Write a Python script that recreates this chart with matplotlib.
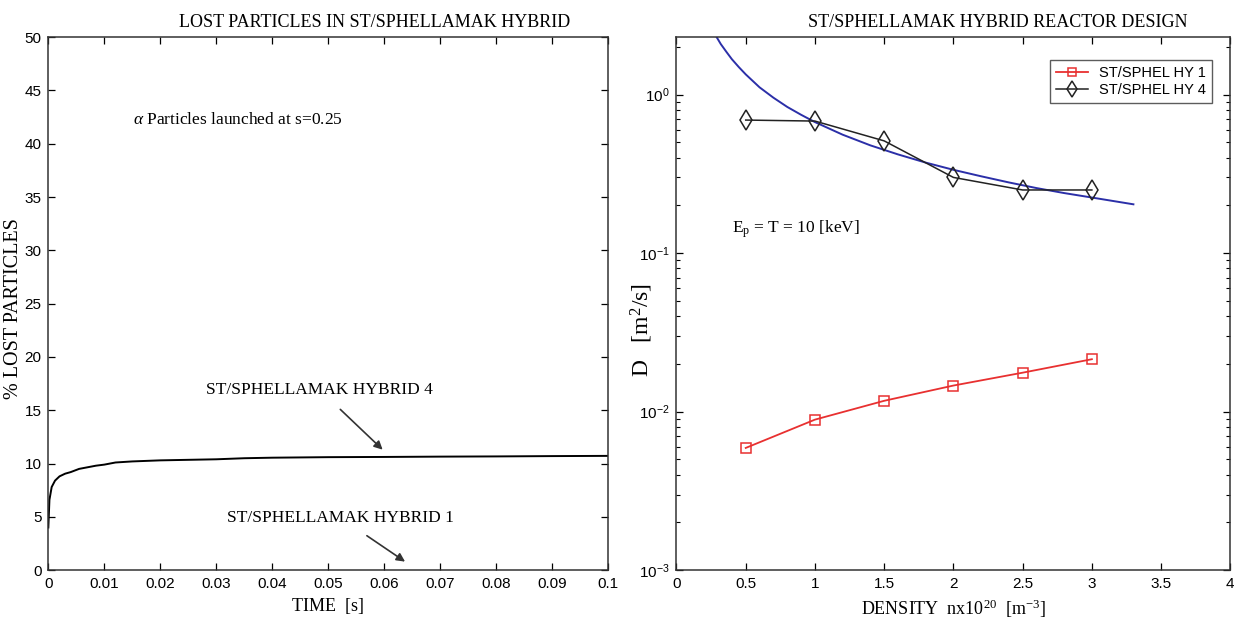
import numpy as np
import matplotlib
matplotlib.use('Agg')
import matplotlib.pyplot as plt

# left panel: lost particles vs time
time_s = [0.0, 0.0002, 0.0006, 0.0012, 0.002, 0.003, 0.004, 0.0055, 0.007, 0.0085, 0.01,
          0.012, 0.015, 0.02, 0.025, 0.03, 0.035, 0.04, 0.05, 0.06, 0.07, 0.08, 0.09, 0.1]
lost_pct = [4.0, 6.6, 7.8, 8.4, 8.8, 9.05, 9.2, 9.5, 9.65, 9.8, 9.9,
            10.1, 10.2, 10.3, 10.35, 10.4, 10.5, 10.55, 10.6, 10.62, 10.65, 10.67, 10.7, 10.72]

# right panel: diffusion coefficient vs density
density = [0.5, 1.0, 1.5, 2.0, 2.5, 3.0]
d_hy1 = [0.0059, 0.0089, 0.0117, 0.0146, 0.0176, 0.0214]
d_hy4 = [0.69, 0.68, 0.51, 0.30, 0.25, 0.25]
fit_n = [0.28, 0.32, 0.36, 0.4, 0.45, 0.5, 0.6, 0.7, 0.8, 0.9, 1.0, 1.2, 1.4, 1.6,
         1.8, 2.0, 2.2, 2.4, 2.6, 2.8, 3.0, 3.3]
fit_d = [2.38, 2.08, 1.86, 1.67, 1.49, 1.34, 1.11, 0.955, 0.835, 0.745, 0.67, 0.558, 0.478, 0.419,
         0.372, 0.335, 0.305, 0.279, 0.257, 0.239, 0.224, 0.203]

serif = ['Liberation Serif', 'DejaVu Serif']
sans = ['Liberation Sans Narrow', 'Liberation Sans', 'DejaVu Sans']

plt.rcParams['font.family'] = sans
plt.rcParams['mathtext.fontset'] = 'custom'
plt.rcParams['mathtext.rm'] = 'Liberation Serif'
plt.rcParams['mathtext.it'] = 'Liberation Serif:italic'

fig = plt.figure(figsize=(12.39, 6.3), dpi=100)
ax1 = fig.add_axes([0.039, 0.095, 0.452, 0.846])
ax2 = fig.add_axes([0.546, 0.095, 0.447, 0.846])

# ---- left ----
ax1.plot(time_s, lost_pct, color='black', lw=1.4)
ax1.set_xlim(0, 0.1)
ax1.set_ylim(0, 50)
ax1.set_xticks(np.arange(0, 0.101, 0.01))
ax1.set_xticklabels(['0', '0.01', '0.02', '0.03', '0.04', '0.05', '0.06', '0.07', '0.08', '0.09', '0.1'])
ax1.set_yticks(range(0, 51, 5))
ax1.set_title('LOST PARTICLES IN ST/SPHELLAMAK HYBRID', family=serif, fontsize=13, pad=7, x=0.583)
ax1.set_xlabel('TIME  [s]', family=serif, fontsize=13, labelpad=5)
ax1.set_ylabel('% LOST PARTICLES', family=serif, fontsize=14.5)
ax1.yaxis.set_label_coords(-0.046, 0.49)
ax1.text(0.0152, 42.2, r'$\alpha$ Particles launched at s=0.25', family=serif, fontsize=12.5, va='center')
ax1.annotate('ST/SPHELLAMAK HYBRID 4', xy=(0.0597, 11.3), xytext=(0.0485, 16.9),
             family=serif, fontsize=12.5, ha='center', va='center',
             arrowprops=dict(arrowstyle='-|>', color='#333333', lw=1.2, shrinkA=9, shrinkB=0))
ax1.annotate('ST/SPHELLAMAK HYBRID 1', xy=(0.0637, 0.8), xytext=(0.0522, 4.9),
             family=serif, fontsize=12.5, ha='center', va='center',
             arrowprops=dict(arrowstyle='-|>', color='#333333', lw=1.2, shrinkA=9, shrinkB=0))

# ---- right ----
ax2.set_yscale('log')
ax2.plot(fit_n, fit_d, color='#2b2fa8', lw=1.4)
ax2.plot(density, d_hy1, color='#e83030', lw=1.3, marker='s', ms=7.5, mfc='none',
         mec='#e83030', mew=1.1, label='ST/SPHEL HY 1')
ax2.plot(density, d_hy4, color='#222222', lw=1.1, marker='d', ms=10, mfc='none',
         mec='#222222', mew=1.1, label='ST/SPHEL HY 4')
ax2.set_xlim(0, 4)
ax2.set_ylim(1e-3, 2.3)
ax2.set_xticks(np.arange(0, 4.01, 0.5))
ax2.set_xticklabels(['0', '0.5', '1', '1.5', '2', '2.5', '3', '3.5', '4'])
ax2.set_title('ST/SPHELLAMAK HYBRID REACTOR DESIGN', family=serif, fontsize=13, pad=7, x=0.58)
ax2.set_xlabel(r'DENSITY  nx10$^{20}$  [m$^{-3}$]', family=serif, fontsize=13, labelpad=5)
ax2.set_ylabel(r'D   [m$^{2}$/s]', family=serif, fontsize=17)
ax2.yaxis.set_label_coords(-0.038, 0.45)
ax2.text(0.10, 0.64, r'E$_{\rm p}$ = T = 10 [keV]', transform=ax2.transAxes,
         family=serif, fontsize=12.5, va='center')
leg = ax2.legend(loc='upper right', bbox_to_anchor=(0.98, 0.97), fontsize=10.5, frameon=True,
                 fancybox=False, edgecolor='#333333', handlelength=2.2, borderpad=0.4,
                 labelspacing=0.2, markerscale=0.8)
leg.get_frame().set_linewidth(1.0)

for ax in (ax1, ax2):
    ax.tick_params(direction='in', top=True, right=True, labelsize=11, length=5, width=0.9, pad=5)
    ax.tick_params(which='minor', direction='in', top=False, right=True, length=3, width=0.8)
    for s in ax.spines.values():
        s.set_linewidth(1.1)
        s.set_color('#333333')

fig.savefig('out.png', dpi=100)
